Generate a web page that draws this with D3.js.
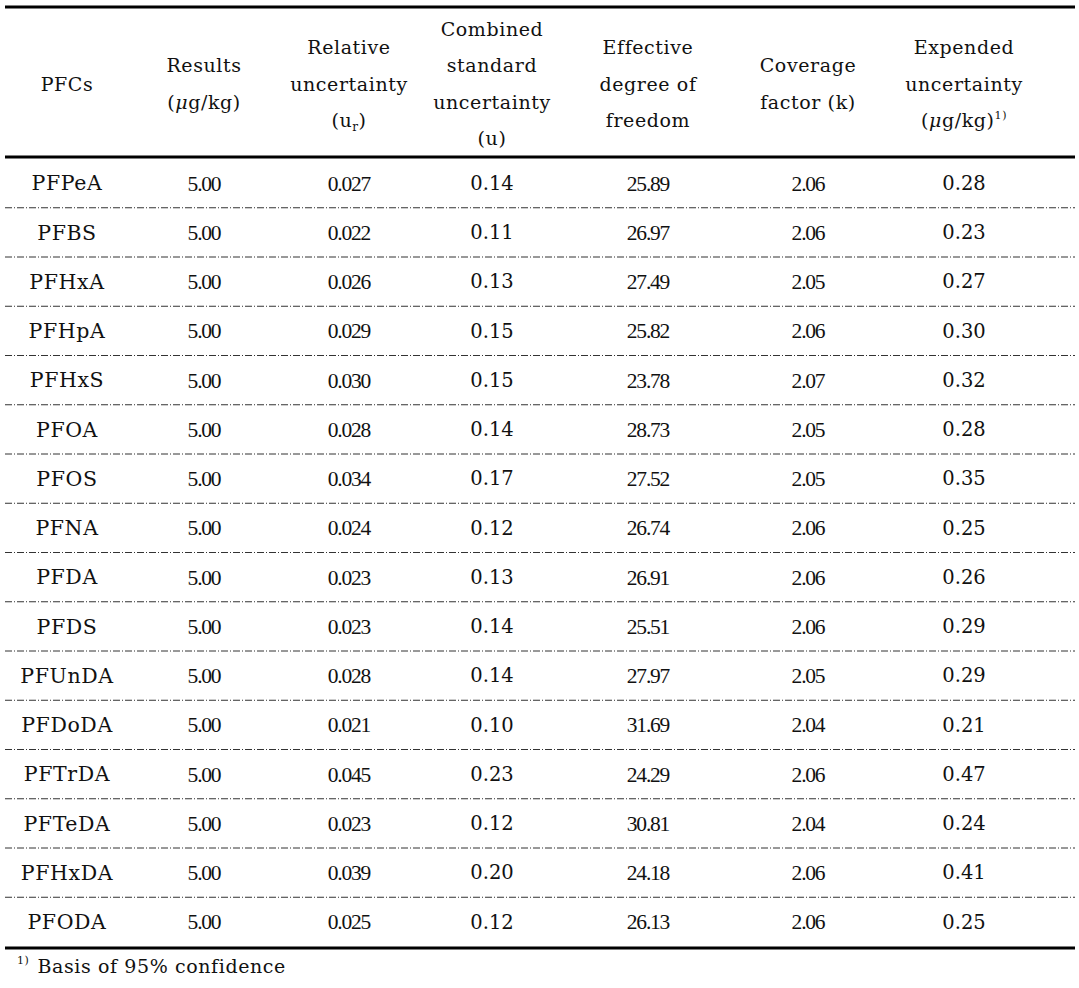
<!DOCTYPE html>
<html><head><meta charset="utf-8">
<script src="https://cdn.jsdelivr.net/npm/d3@7/dist/d3.min.js"></script>
<style>
html,body{margin:0;padding:0;background:#fff;}
</style></head>
<body>
<svg id="chart" width="1079" height="988"></svg>
<script>
// ---- data ----
const compounds = ["PFPeA","PFBS","PFHxA","PFHpA","PFHxS","PFOA","PFOS","PFNA","PFDA","PFDS","PFUnDA","PFDoDA","PFTrDA","PFTeDA","PFHxDA","PFODA"];
const results = ["5.00","5.00","5.00","5.00","5.00","5.00","5.00","5.00","5.00","5.00","5.00","5.00","5.00","5.00","5.00","5.00"];
const relativeU = ["0.027","0.022","0.026","0.029","0.030","0.028","0.034","0.024","0.023","0.023","0.028","0.021","0.045","0.023","0.039","0.025"];
const combinedU = ["0.14","0.11","0.13","0.15","0.15","0.14","0.17","0.12","0.13","0.14","0.14","0.10","0.23","0.12","0.20","0.12"];
const effDof = ["25.89","26.97","27.49","25.82","23.78","28.73","27.52","26.74","26.91","25.51","27.97","31.69","24.29","30.81","24.18","26.13"];
const coverageK = ["2.06","2.06","2.05","2.06","2.07","2.05","2.05","2.06","2.06","2.06","2.05","2.04","2.06","2.04","2.06","2.06"];
const expandedU = ["0.28","0.23","0.27","0.30","0.32","0.28","0.35","0.25","0.26","0.29","0.29","0.21","0.47","0.24","0.41","0.25"];
const columnKeys = ["PFCs","Results","Relative","Combined","Effective","Coverage","Expended"];
const footnote = "Basis of 95% confidence";

// ---- layout ----
const svg = d3.select("#chart");
const left = 5, right = 1075;
const topLine = 7, headBottom = 157, tableBottom = 948;
const x = d3.scaleOrdinal().domain(columnKeys).range([67, 204, 349, 492, 648, 808, 964]);
const y = d3.scaleBand().domain(compounds).range([headBottom + 1.5, tableBottom - 1.5]);
const headFont = "'DejaVu Serif', serif";
const numFont = "'Liberation Serif', serif";
const wideFont = "'DejaVu Serif', serif";

// header
const headCenter = 84, lh = 36.5;
const headers = [
  {k:"PFCs", lines:[[{t:"PFCs"}]]},
  {k:"Results", lines:[[{t:"Results"}],[{t:"("},{t:"μ",it:true},{t:"g/kg)"}]]},
  {k:"Relative", lines:[[{t:"Relative"}],[{t:"uncertainty"}],[{t:"(u"},{t:"r",sub:true},{t:")"}]]},
  {k:"Combined", lines:[[{t:"Combined"}],[{t:"standard"}],[{t:"uncertainty"}],[{t:"(u)"}]]},
  {k:"Effective", lines:[[{t:"Effective"}],[{t:"degree of"}],[{t:"freedom"}]]},
  {k:"Coverage", lines:[[{t:"Coverage"}],[{t:"factor (k)"}]]},
  {k:"Expended", lines:[[{t:"Expended"}],[{t:"uncertainty"}],[{t:"("},{t:"μ",it:true},{t:"g/kg)"},{t:"1)",sup:true}]]}
];
const hg = svg.append("g").attr("font-family", headFont).attr("font-size", 19).attr("fill","#111");
headers.forEach(h => {
  const n = h.lines.length;
  h.lines.forEach((segs, i) => {
    const yy = headCenter + (i - (n-1)/2) * lh;
    const t = hg.append("text").attr("x", x(h.k)).attr("y", yy).attr("dy","0.35em")
      .attr("text-anchor","middle").attr("letter-spacing", 0.6);
    segs.forEach((s, j) => {
      const ts = t.append("tspan").text(s.t);
      if (s.it) ts.attr("font-style","italic");
      if (s.sub) ts.attr("font-size", 12).attr("dy", 4);
      if (s.sup) ts.attr("font-size", 11).attr("dy", -8);
      if (j > 0 && segs[j-1].sub) ts.attr("dy", -4);
    });
  });
});

// rule lines
const lines = svg.append("g");
[topLine, headBottom, tableBottom].forEach(v => {
  lines.append("line").attr("x1", left).attr("x2", right).attr("y1", v).attr("y2", v)
    .attr("stroke","#000").attr("stroke-width",3);
});
compounds.slice(0,-1).forEach(c => {
  const v = y(c) + y.bandwidth();
  lines.append("line").attr("x1", left).attr("x2", right).attr("y1", v).attr("y2", v)
    .attr("stroke","#333").attr("stroke-width",1).attr("stroke-dasharray","7,2,1,2");
});

// body
const cols = [
  {k:"PFCs", vals:compounds, font:headFont, size:20.5, ls:0.6},
  {k:"Results", vals:results, font:numFont, size:21.5, ls:-1.2},
  {k:"Relative", vals:relativeU, font:numFont, size:21.5, ls:-1.2},
  {k:"Combined", vals:combinedU, font:wideFont, size:19.5, ls:0},
  {k:"Effective", vals:effDof, font:numFont, size:21.5, ls:-1.2},
  {k:"Coverage", vals:coverageK, font:numFont, size:21.5, ls:-1.2},
  {k:"Expended", vals:expandedU, font:wideFont, size:19.5, ls:0}
];
cols.forEach(c => {
  svg.append("g").selectAll("text").data(compounds).join("text")
    .attr("x", x(c.k))
    .attr("y", d => y(d) + y.bandwidth()/2)
    .attr("dy","0.35em")
    .attr("text-anchor","middle")
    .attr("font-family", c.font).attr("font-size", c.size)
    .attr("letter-spacing", c.ls).attr("fill","#111")
    .text((d,i) => c.vals[i]);
});

// footnote
const fn = svg.append("text").attr("x", 17).attr("y", 973).attr("font-family", headFont)
  .attr("font-size", 19).attr("fill","#111").attr("letter-spacing",0.6);
fn.append("tspan").attr("font-size", 11).attr("dy", -9).text("1)");
fn.append("tspan").attr("dy", 9).attr("dx", 8).text(footnote);
</script>
</body></html>
